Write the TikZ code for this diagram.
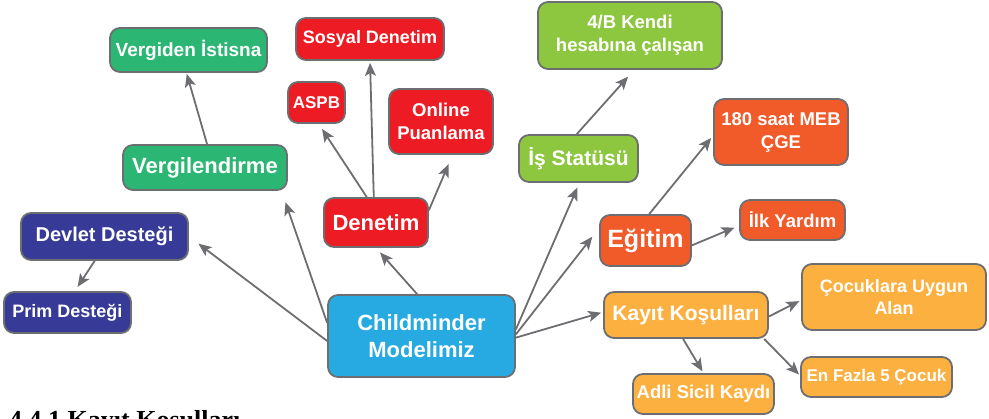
\documentclass[tikz,border=0pt]{standalone}
\usepackage{fontspec}
\setmainfont{Liberation Sans}
\newfontfamily\headfont{Liberation Serif}
\usepackage{xcolor}
\usetikzlibrary{positioning,calc,arrows.meta}

\definecolor{edgegray}{HTML}{6D6E71}
\definecolor{modelblue}{HTML}{27AAE1}
\definecolor{taxgreen}{HTML}{2BB673}
\definecolor{statenavy}{HTML}{373A96}
\definecolor{auditred}{HTML}{ED1C24}
\definecolor{workgreen}{HTML}{8DC63F}
\definecolor{eduorange}{HTML}{F15A29}
\definecolor{regorange}{HTML}{FBB040}

\begin{document}
\begin{tikzpicture}[
    x=1pt,y=-1pt,
    bubble/.style={rectangle,rounded corners=10pt,draw=edgegray,line width=1.8pt,text=white,align=center,inner sep=0pt},
    big/.style={font=\bfseries\fontsize{22}{27}\selectfont},
    small/.style={font=\bfseries\fontsize{18.5}{23}\selectfont},
    arrow/.style={-{Stealth[length=13pt,width=11pt,inset=3pt]},draw=edgegray,line width=1.8pt}
    ]

    \useasboundingbox (0,0) rectangle (989,419);

    % centre
    \node[bubble,big,fill=modelblue,minimum width=187pt,minimum height=82pt] (model) at (421.5,336) {Childminder\\Modelimiz};

    % left side
    \node[bubble,font=\bfseries\fontsize{20}{24}\selectfont,fill=statenavy,minimum width=167pt,minimum height=47pt] (devlet) at (104.5,236.5) {Devlet Desteği};
    \node[bubble,small,font=\bfseries\fontsize{18}{22}\selectfont,fill=statenavy,minimum width=127pt,minimum height=41pt] (prim) at (67.5,312.5) {Prim Desteği};
    \node[bubble,big,fill=taxgreen,minimum width=164pt,minimum height=45pt] (vergi) at (205,167.5) {Vergilendirme};
    \node[bubble,small,font=\bfseries\fontsize{19}{23}\selectfont,fill=taxgreen,minimum width=157pt,minimum height=44pt] (istisna) at (188.5,50) {Vergiden İstisna};

    % denetim
    \node[bubble,big,fill=auditred,minimum width=104pt,minimum height=49pt] (denetim) at (376,222.5) {Denetim};
    \node[bubble,small,font=\bfseries\fontsize{18}{22}\selectfont,fill=auditred,minimum width=148pt,minimum height=42pt] (sosyal) at (370,39) {Sosyal Denetim};
    \node[bubble,small,font=\bfseries\fontsize{17}{21}\selectfont,fill=auditred,minimum width=57pt,minimum height=41pt] (aspb) at (316.5,102.5) {ASPB};
    \node[bubble,small,fill=auditred,minimum width=104pt,minimum height=65pt] (online) at (441,121.5) {Online\\Puanlama};

    % is statusu
    \node[bubble,font=\bfseries\fontsize{21}{25}\selectfont,fill=workgreen,minimum width=119pt,minimum height=47pt] (statu) at (578.5,158.5) {İş Statüsü};
    \node[bubble,small,fill=workgreen,minimum width=184pt,minimum height=67pt] (kendi) at (630,35.5) {4/B Kendi\\hesabına çalışan};

    % egitim
    \node[bubble,font=\bfseries\fontsize{25}{30}\selectfont,fill=eduorange,minimum width=91pt,minimum height=51pt] (egitim) at (645.5,240.5) {Eğitim};
    \node[bubble,small,fill=eduorange,minimum width=134pt,minimum height=66pt] (meb) at (781,132) {180 saat MEB\\ÇGE};
    \node[bubble,small,fill=eduorange,minimum width=105pt,minimum height=40pt] (yardim) at (792.5,220) {İlk Yardım};

    % kayit kosullari
    \node[bubble,font=\bfseries\fontsize{21}{25}\selectfont,fill=regorange,minimum width=164pt,minimum height=46pt] (kayit) at (686,315) {Kayıt Koşulları};
    \node[bubble,small,font=\bfseries\fontsize{18}{22}\selectfont,fill=regorange,minimum width=184pt,minimum height=66pt] (alan) at (894,297) {Çocuklara Uygun\\Alan};
    \node[bubble,small,font=\bfseries\fontsize{17}{21}\selectfont,fill=regorange,minimum width=151pt,minimum height=40pt] (fazla) at (876.5,377) {En Fazla 5 Çocuk};
    \node[bubble,small,fill=regorange,minimum width=141pt,minimum height=40pt] (sicil) at (703.5,394) {Adli Sicil Kaydı};

    % heading below, cut by the page
    \node[anchor=base west,inner sep=0pt,font=\headfont\bfseries\fontsize{26}{30}\selectfont] (baslik) at (9,429) {4.4.1 Kayıt Koşulları};

    \draw[arrow,shorten >=12pt] (model.183) -- (devlet.east);
    \draw[arrow,shorten >=12pt] (model.172) -- (vergi.-17);
    \draw[arrow,shorten >=6pt] (model.96) -- (denetim.south);
    \draw[arrow,shorten >=5pt] (model.4) -- (statu.-88);
    \draw[arrow,shorten >=11pt] (model.1) -- (egitim.165);
    \draw[arrow,shorten >=2pt] (model.-1) -- (kayit.178);

    \draw[arrow,shorten >=5pt] (devlet.-112) -- (prim.71);
    \draw[arrow,shorten >=1pt] (vergi.85) -- (istisna.-95);

    \draw[arrow,shorten >=6pt] (denetim.110) -- (aspb.-84);
    \draw[arrow,shorten >=2pt] (denetim.95) -- (sosyal.south);
    \draw[arrow,shorten >=10pt] (denetim.13) -- (online.-71);

    \draw[arrow,shorten >=9pt] (statu.94) -- (kendi.-83);

    \draw[arrow,shorten >=3pt] (egitim.82) -- (meb.183);
    \draw[arrow,shorten >=5pt] (egitim.-6) -- (yardim.186);

    \draw[arrow,shorten >=2pt] (kayit.-1) -- (alan.182);
    \draw[arrow,shorten >=1.5pt] (kayit.-17) -- (fazla.179);
    \draw[arrow,shorten >=2pt] (kayit.-97) -- (sicil.north);

  \end{tikzpicture}
\end{document}
